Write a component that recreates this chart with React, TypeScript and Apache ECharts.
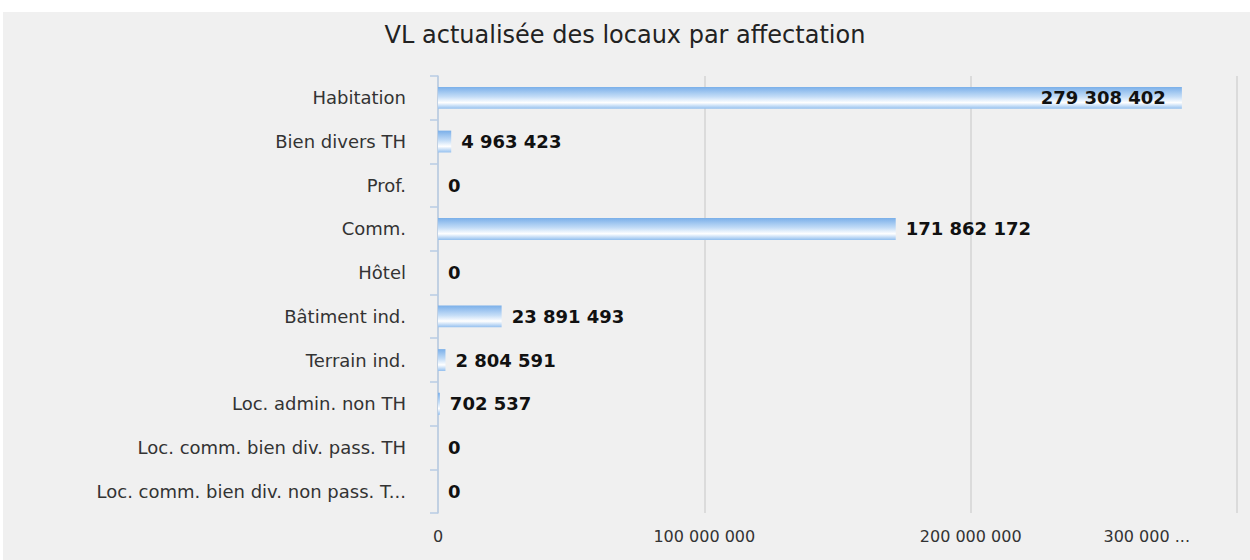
import React, { useEffect, useRef } from "react";
import * as echarts from "echarts";

const titleText = "VL actualisée des locaux par affectation";
const categories = [
  "Habitation",
  "Bien divers TH",
  "Prof.",
  "Comm.",
  "Hôtel",
  "Bâtiment ind.",
  "Terrain ind.",
  "Loc. admin. non TH",
  "Loc. comm. bien div. pass. TH",
  "Loc. comm. bien div. non pass. T...",
];
const values = [279308402, 4963423, 0, 171862172, 0, 23891493, 2804591, 702537, 0, 0];
const insideLabelCategories = ["Habitation"];
const axisMax = 300000000;
const axisInterval = 100000000;
const maxTickLabel = "300 000 ...";

const fmt = (v: number) => String(Math.round(v)).replace(/\B(?=(\d{3})+(?!\d))/g, " ");

export default function App() {
  const ref = useRef<HTMLDivElement>(null);
  useEffect(() => {
    if (!ref.current) return;
    const chart = echarts.init(ref.current, null, { renderer: "svg" });
    const barGradient = new echarts.graphic.LinearGradient(0, 0, 0, 1, [
      { offset: 0, color: "#7aafe9" },
      { offset: 0.45, color: "#c4ddf7" },
      { offset: 0.72, color: "#ffffff" },
      { offset: 1, color: "#94c0ef" },
    ]);
    chart.setOption({
      animation: false,
      backgroundColor: "#ffffff",
      graphic: [
        {
          type: "rect",
          z: -10,
          silent: true,
          shape: { x: 3, y: 12, width: 1247, height: 548 },
          style: { fill: "#f0f0f0" },
        },
      ],
      title: {
        text: titleText,
        left: "center",
        top: 18,
        textStyle: {
          fontFamily: "DejaVu Sans",
          fontSize: 24,
          fontWeight: "normal",
          color: "#222",
        },
      },
      grid: { left: 438, right: 13, top: 76, bottom: 47, containLabel: false },
      xAxis: {
        type: "value",
        min: 0,
        max: axisMax,
        interval: axisInterval,
        axisLine: { show: false },
        axisTick: { show: false },
        splitLine: { show: true, lineStyle: { color: "#d4d4d4", width: 1.5 } },
        axisLabel: {
          fontFamily: "DejaVu Sans",
          fontSize: 16,
          color: "#333",
          margin: 15,
          alignMaxLabel: "right",
          formatter: (v: number) => (v >= axisMax ? "{last|" + maxTickLabel + "}" : fmt(v)),
          rich: {
            last: {
              fontFamily: "DejaVu Sans",
              fontSize: 16,
              color: "#333",
              padding: [0, 47, 0, 0],
            },
          },
        },
      },
      yAxis: {
        type: "category",
        inverse: true,
        data: categories,
        axisLine: { show: true, lineStyle: { color: "#b9cde4", width: 1.5 } },
        axisTick: { show: true, length: 8, lineStyle: { color: "#b9cde4", width: 1.5 } },
        splitLine: { show: false },
        axisLabel: {
          fontFamily: "DejaVu Sans",
          fontSize: 18,
          color: "#333",
          margin: 32,
        },
      },
      series: [
        {
          type: "bar",
          barWidth: "50%",
          data: values.map((v, i) => ({
            value: v,
            label: insideLabelCategories.includes(categories[i])
              ? { position: "insideRight", distance: 16 }
              : { position: "right", distance: 10 },
          })),
          itemStyle: { color: barGradient },
          label: {
            show: true,
            fontFamily: "DejaVu Sans",
            fontWeight: "bold",
            fontSize: 18,
            color: "#111",
            formatter: (p: any) => fmt(p.value),
          },
        },
      ],
    });
    return () => chart.dispose();
  }, []);
  return (
    <div
      ref={ref}
      style={{ position: "fixed", left: 0, top: 0, width: 1250, height: 560 }}
    />
  );
}
